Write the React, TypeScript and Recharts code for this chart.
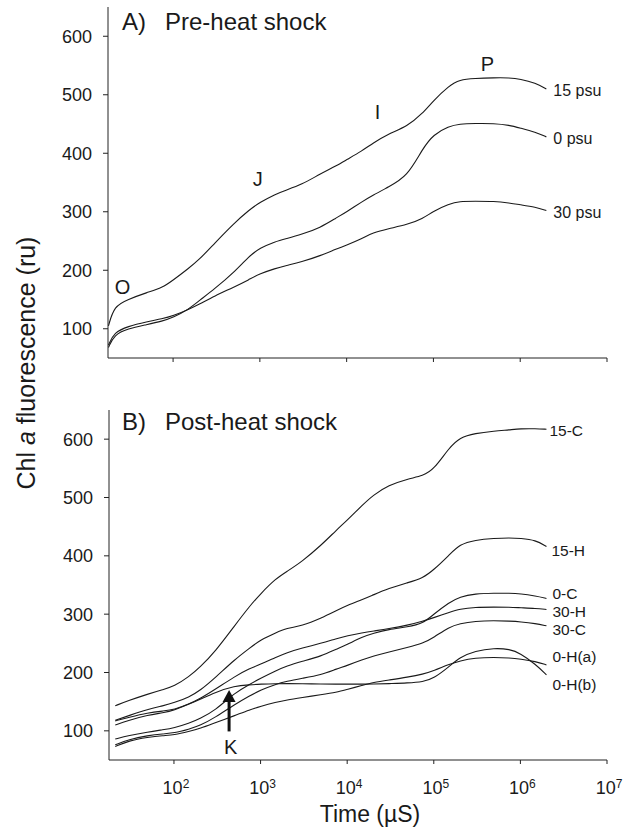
import React from 'react';
import { LineChart, Line, XAxis, YAxis, ReferenceDot, ReferenceLine } from 'recharts';

// ---------- Panel A: pre-heat shock ----------
const topTimes = [18, 21, 30, 50, 75, 100, 150, 200, 300, 500, 750, 1000, 1500, 2000, 3000, 5000, 7500, 10000, 15000, 20000, 30000, 50000, 75000, 100000, 150000, 200000, 300000, 500000, 750000, 1000000, 1500000, 2000000];
const psu15 = [105, 139, 150, 162, 170, 183, 203, 218, 246, 280, 303, 316, 330, 337, 346, 365, 378, 389, 404, 417, 433, 446, 468, 490, 515, 526, 528, 529, 529, 527, 520, 510];
const psu0 = [68, 90, 100, 107, 113, 119, 133, 148, 168, 196, 224, 238, 249, 254, 261, 273, 289, 300, 317, 328, 342, 360, 408, 432, 446, 450, 451, 451, 448, 443, 436, 428];
const psu30 = [72, 94, 104, 112, 117, 122, 133, 142, 156, 171, 184, 194, 203, 208, 214, 225, 236, 243, 254, 264, 271, 278, 288, 301, 313, 318, 318, 318, 315, 312, 308, 302];

const topSeries = [
  { key: 'psu15', label: '15 psu', values: psu15 },
  { key: 'psu0', label: '0 psu', values: psu0 },
  { key: 'psu30', label: '30 psu', values: psu30 },
];

// O-J-I-P step annotations (time, value)
const stepLabels = ['O', 'J', 'I', 'P'];
const stepTimes = [25.6, 1000, 25350, 422700];
const stepValues = [171, 356, 470, 553];

// ---------- Panel B: post-heat shock ----------
const bottomTimes = [21, 30, 50, 75, 100, 150, 200, 300, 500, 750, 1000, 1500, 2000, 3000, 5000, 7500, 10000, 15000, 20000, 30000, 50000, 75000, 100000, 150000, 200000, 300000, 500000, 750000, 1000000, 1500000, 2000000];
const c15 = [143, 152, 163, 171, 176, 193, 209, 236, 280, 314, 335, 361, 373, 390, 418, 444, 461, 487, 504, 521, 532, 537, 548, 585, 603, 610, 614, 616, 618, 618, 617];
const h15 = [118, 126, 137, 143, 148, 158, 169, 191, 222, 242, 256, 268, 276, 280, 293, 306, 315, 325, 333, 344, 354, 362, 376, 401, 420, 427, 430, 431, 430, 427, 416];
const c0 = [86, 92, 98, 102, 105, 113, 121, 135, 165, 180, 190, 203, 211, 219, 228, 240, 248, 261, 267, 274, 278, 284, 300, 320, 330, 335, 336, 336, 335, 331, 327];
const h30 = [117, 123, 131, 134, 136, 146, 155, 171, 193, 207, 214, 226, 234, 242, 250, 258, 263, 268, 271, 275, 281, 288, 294, 303, 309, 312, 312, 312, 311, 310, 308];
const c30 = [76, 85, 92, 95, 96, 103, 109, 123, 145, 160, 170, 180, 185, 190, 196, 206, 212, 222, 228, 235, 243, 250, 260, 278, 284, 288, 289, 288, 287, 284, 280];
const h0a = [73, 83, 89, 92, 93, 99, 104, 114, 126, 136, 142, 149, 153, 157, 162, 166, 171, 178, 183, 187, 192, 197, 203, 214, 220, 225, 226, 225, 223, 219, 213];
const h0b = [110, 118, 127, 131, 135, 146, 154, 166, 177, 179, 180, 181, 181, 181, 180, 180, 180, 180, 180, 181, 182, 184, 190, 210, 226, 237, 242, 240, 233, 214, 196];

const bottomSeries = [
  { key: 'c15', label: '15-C', values: c15 },
  { key: 'h15', label: '15-H', values: h15 },
  { key: 'c0', label: '0-C', values: c0 },
  { key: 'h30', label: '30-H', values: h30 },
  { key: 'c30', label: '30-C', values: c30 },
  { key: 'h0a', label: '0-H(a)', values: h0a },
  { key: 'h0b', label: '0-H(b)', values: h0b },
];

// K-step arrow (time, tail value, tip value, label value)
const kTime = 433;
const kTail = 99;
const kTip = 170;
const kLabelValue = 73;

// axes
const xTicks = [100, 1000, 10000, 100000, 1000000, 10000000];
const yTicks = [100, 200, 300, 400, 500, 600];
const yDomain = [50, 650];
const xDomain = [Math.pow(10, 1.25), 10000000];

// ---------- styling ----------
const FONT = '"Liberation Sans", Arial, Helvetica, sans-serif';
const INK = '#1a1a1a';
const AXIS = '#222';

const topLabelOffset: Record<string, { dx: number; dy: number }> = {
  psu15: { dx: 7, dy: 2 },
  psu0: { dx: 7, dy: 2 },
  psu30: { dx: 7, dy: 2 },
};
const bottomLabelOffset: Record<string, { dx: number; dy: number }> = {
  c15: { dx: 3, dy: 1 },
  h15: { dx: 5, dy: 4 },
  c0: { dx: 6, dy: -5 },
  h30: { dx: 6, dy: 2 },
  c30: { dx: 6, dy: 4 },
  h0a: { dx: 6, dy: -8 },
  h0b: { dx: 6, dy: 10 },
};

const topData = topTimes.map((t, i) => {
  const row: Record<string, number> = { t };
  topSeries.forEach((s) => (row[s.key] = s.values[i]));
  return row;
});
const bottomData = bottomTimes.map((t, i) => {
  const row: Record<string, number> = { t };
  bottomSeries.forEach((s) => (row[s.key] = s.values[i]));
  return row;
});

const EmptyTick = () => <g />;

const PowerTick = (props: any) => {
  const { x, y, payload } = props;
  const exp = Math.round(Math.log10(payload.value));
  return (
    <text x={x + 2} y={y + 28} textAnchor="middle" fontSize={18} fill={INK} fontFamily={FONT}>
      10
      <tspan dy={-6} fontSize={12}>
        {exp}
      </tspan>
    </text>
  );
};

const endLabel = (text: string, dx: number, dy: number, fontSize: number) => (props: any) => {
  const vb = props.viewBox || {};
  const cx = (vb.x || 0) + (vb.width || 0) / 2;
  const cy = (vb.y || 0) + (vb.height || 0) / 2;
  return (
    <text x={cx + dx} y={cy + dy} dominantBaseline="central" fontSize={fontSize} fill={INK} fontFamily={FONT}>
      {text}
    </text>
  );
};

const ArrowShape = (p: any) => {
  const x = p.x1;
  const top = Math.min(p.y1, p.y2);
  const bottom = Math.max(p.y1, p.y2);
  return (
    <g>
      <line x1={x} y1={bottom} x2={x} y2={top + 10} stroke="#111" strokeWidth={3} />
      <polygon points={`${x - 6.5},${top + 12} ${x + 6.5},${top + 12} ${x},${top}`} fill="#111" />
    </g>
  );
};

const yAxisProps = {
  type: 'number' as const,
  domain: yDomain,
  ticks: yTicks,
  allowDataOverflow: true,
  tickSize: 5,
  tickMargin: 11,
  width: 60,
  stroke: AXIS,
  interval: 0 as const,
  tick: { fontSize: 18, fill: INK, fontFamily: FONT },
};

export default function App() {
  return (
    <div
      style={{
        position: 'absolute',
        left: 0,
        top: 0,
        width: 632,
        height: 832,
        background: '#fff',
        fontFamily: FONT,
        overflow: 'hidden',
      }}
    >
      <div style={{ position: 'absolute', left: 0, top: 0 }}>
        <LineChart width={632} height={400} data={topData} margin={{ top: 7, right: 25, bottom: 12, left: 48 }}>
          <XAxis
            dataKey="t"
            type="number"
            scale="log"
            domain={xDomain}
            ticks={xTicks}
            allowDataOverflow
            tick={<EmptyTick />}
            tickSize={4}
            height={30}
            stroke={AXIS}
            interval={0}
          />
          <YAxis {...yAxisProps} />
          {topSeries.map((s) => (
            <Line
              key={s.key}
              dataKey={s.key}
              type="basis"
              stroke={INK}
              strokeWidth={1.1}
              dot={false}
              activeDot={false}
              isAnimationActive={false}
            />
          ))}
          {topSeries.map((s) => (
            <ReferenceDot
              key={'lbl-' + s.key}
              x={topTimes[topTimes.length - 1]}
              y={s.values[s.values.length - 1]}
              r={1}
              fill="none"
              stroke="none"
              label={endLabel(s.label, topLabelOffset[s.key].dx, topLabelOffset[s.key].dy, 16)}
            />
          ))}
          {stepLabels.map((txt, i) => (
            <ReferenceDot
              key={'step-' + txt}
              x={stepTimes[i]}
              y={stepValues[i]}
              r={1}
              fill="none"
              stroke="none"
              label={endLabel(txt, -7, 0, 20)}
            />
          ))}
        </LineChart>
      </div>

      <div style={{ position: 'absolute', left: 0, top: 400 }}>
        <LineChart width={632} height={432} data={bottomData} margin={{ top: 10, right: 25, bottom: 42, left: 49 }}>
          <XAxis
            dataKey="t"
            type="number"
            scale="log"
            domain={xDomain}
            ticks={xTicks}
            allowDataOverflow
            tick={<PowerTick />}
            tickSize={4}
            tickMargin={2}
            height={30}
            stroke={AXIS}
            interval={0}
          />
          <YAxis {...yAxisProps} />
          {bottomSeries.map((s) => (
            <Line
              key={s.key}
              dataKey={s.key}
              type="basis"
              stroke={INK}
              strokeWidth={1.1}
              dot={false}
              activeDot={false}
              isAnimationActive={false}
            />
          ))}
          {bottomSeries.map((s) => (
            <ReferenceDot
              key={'lbl-' + s.key}
              x={bottomTimes[bottomTimes.length - 1]}
              y={s.values[s.values.length - 1]}
              r={1}
              fill="none"
              stroke="none"
              label={endLabel(s.label, bottomLabelOffset[s.key].dx, bottomLabelOffset[s.key].dy, 15.5)}
            />
          ))}
          <ReferenceLine
            segment={[
              { x: kTime, y: kTail },
              { x: kTime, y: kTip },
            ]}
            shape={ArrowShape}
          />
          <ReferenceDot
            x={kTime}
            y={kLabelValue}
            r={1}
            fill="none"
            stroke="none"
            label={endLabel('K', -5, 0, 20)}
          />
        </LineChart>
      </div>

      <svg
        width={632}
        height={832}
        style={{ position: 'absolute', left: 0, top: 0, pointerEvents: 'none' }}
      >
        <text x={122} y={30} fontSize={24} fill={INK} fontFamily={FONT}>A)</text>
        <text x={165} y={30} fontSize={24} fill={INK} fontFamily={FONT}>Pre-heat shock</text>
        <text x={122} y={430} fontSize={24} fill={INK} fontFamily={FONT}>B)</text>
        <text x={165} y={430} fontSize={24} fill={INK} fontFamily={FONT}>Post-heat shock</text>
        <text
          x={35}
          y={363}
          transform="rotate(-90 35 363)"
          textAnchor="middle"
          fontSize={25}
          fill={INK}
          fontFamily={FONT}
        >
          Chl <tspan fontStyle="italic">a</tspan> fluorescence (ru)
        </text>
        <text x={370} y={822} textAnchor="middle" fontSize={23} fill={INK} fontFamily={FONT}>
          Time (µS)
        </text>
      </svg>
    </div>
  );
}
